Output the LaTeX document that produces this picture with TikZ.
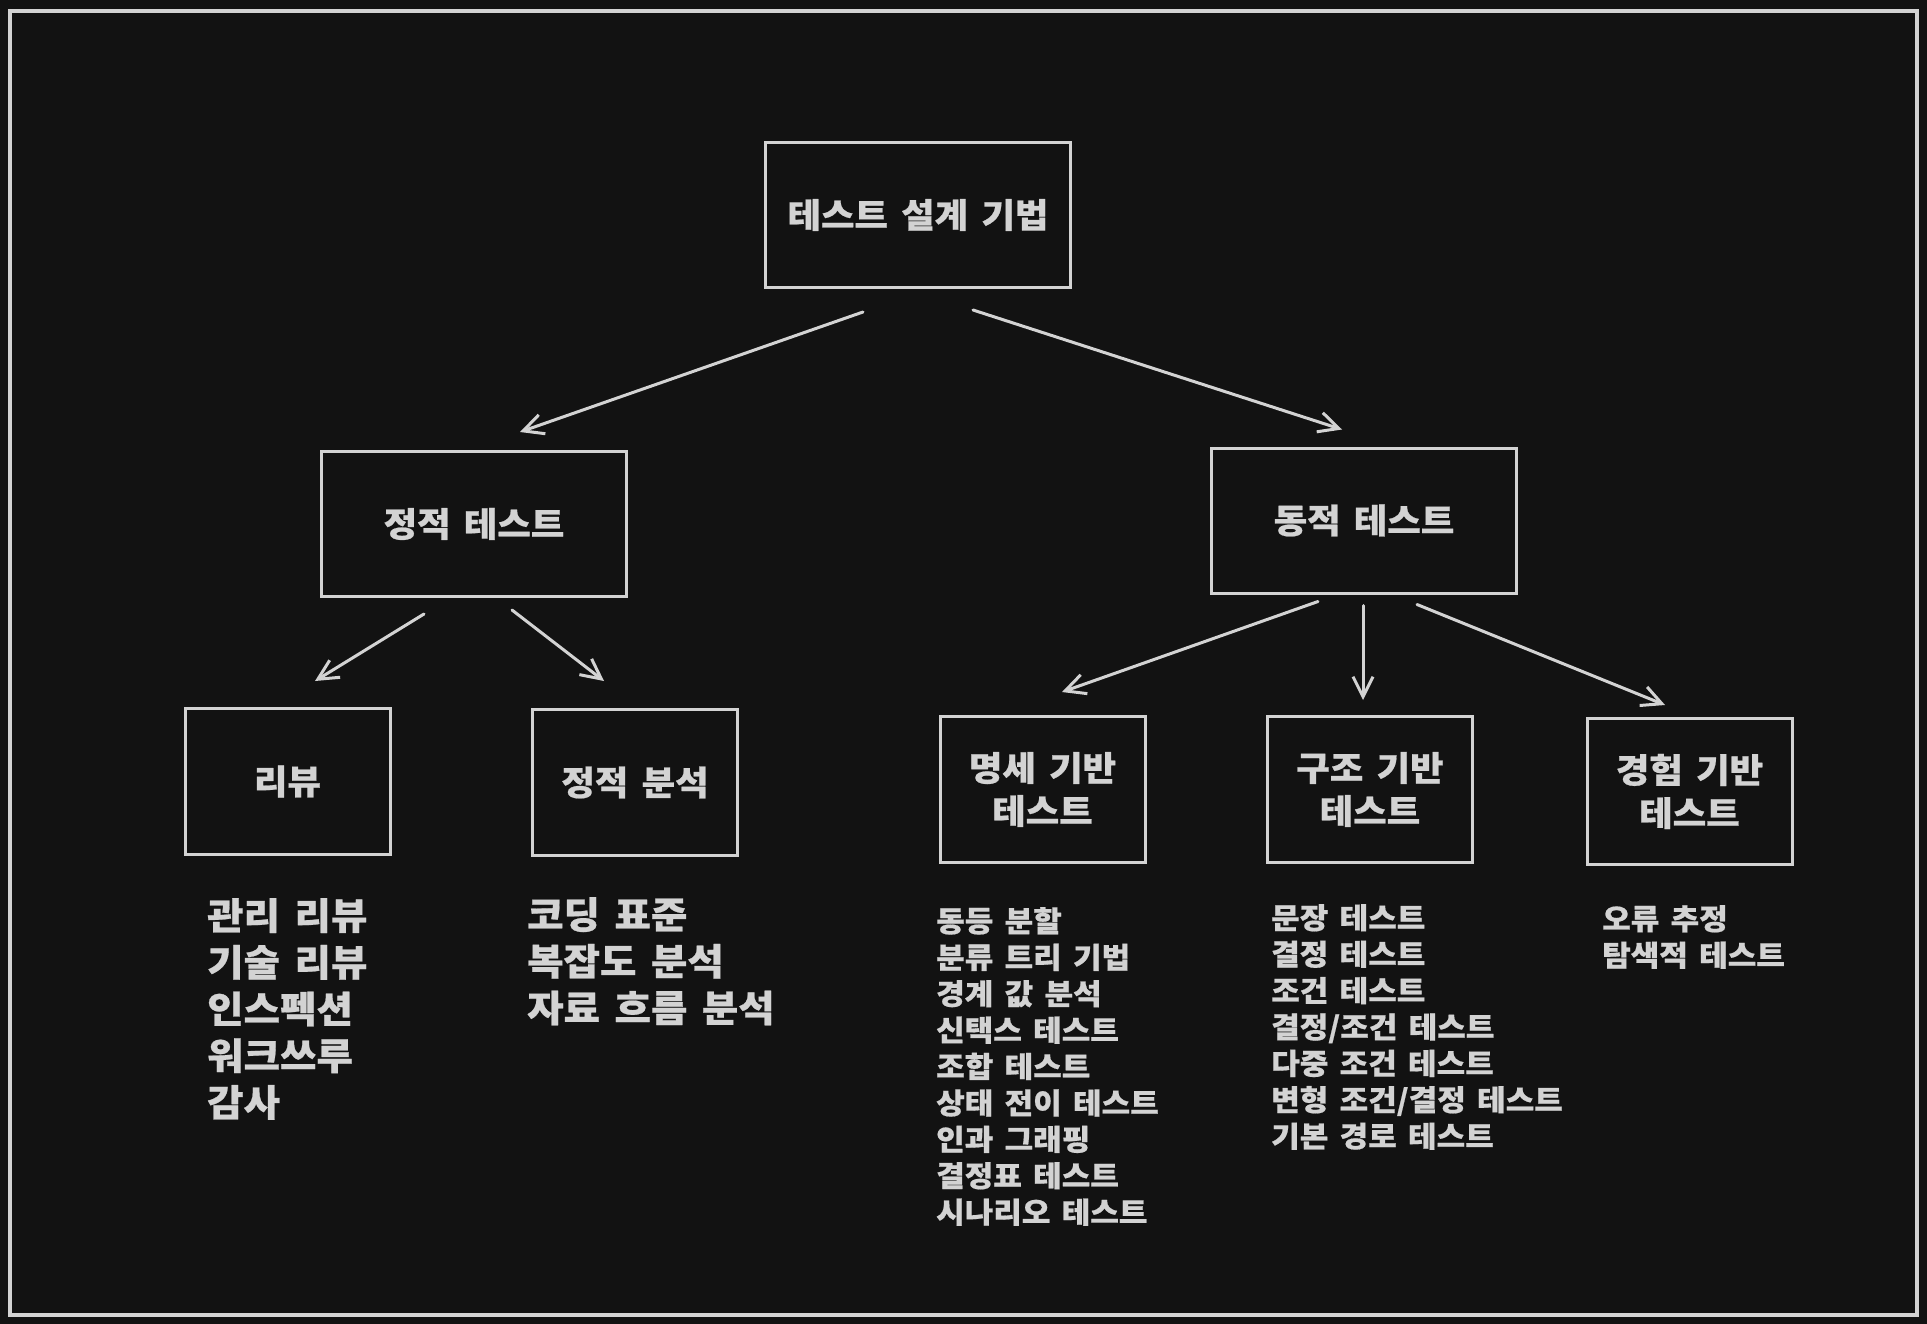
\documentclass[tikz,border=0pt]{standalone}
\usepackage{fontspec}
\newfontfamily\kr{Noto Sans CJK KR}[FakeStretch=1.07,WordSpace=1.6,FakeBold=0.6]
\usetikzlibrary{arrows.meta,calc}
\definecolor{bg}{HTML}{121212}
\definecolor{ink}{HTML}{D3D3D3}
\begin{document}
\begin{tikzpicture}[x=1pt,y=-1pt,
  box/.style={draw=ink, line width=3pt, rectangle, inner sep=0pt, text=ink,
    align=center, font=\kr\bfseries\fontsize{34pt}{43pt}\selectfont},
  wide/.style={box, minimum width=305pt, minimum height=145pt},
  small/.style={box, minimum width=205pt, minimum height=146pt},
  biglist/.style={anchor=north west, inner sep=0pt, text=ink, align=left,
    font=\kr\bfseries\fontsize{37pt}{46.7pt}\selectfont},
  smalllist/.style={anchor=north west, inner sep=0pt, text=ink, align=left,
    font=\kr\bfseries\fontsize{29pt}{36.4pt}\selectfont},
  arr/.style={draw=ink, line width=3pt, line cap=round,
    -{Straight Barb[length=20pt,width=20pt]}}]
\useasboundingbox (0,0) rectangle (1927,1324);
\fill[bg] (0,0) rectangle (1927,1324);
\draw[ink, line width=3.5pt] (10,11) rectangle (1917,1315);

% boxes
\node[wide] (root) at (918,215) {테스트 설계 기법};
\node[wide] (st) at (474,524) {정적 테스트};
\node[wide] (dy) at (1364,520.5) {동적 테스트};
\node[small] (rv) at (287.5,781.5) {리뷰};
\node[small] (sa) at (635,782.5) {정적 분석};
\node[small] (sp) at (1042.5,789.5) {명세 기반\\테스트};
\node[small] (sc) at (1370,789.5) {구조 기반\\테스트};
\node[small] (ex) at (1689.5,791.5) {경험 기반\\테스트};

% connectors
\draw[arr] ($(root.south)+(-55,23)$) -- ($(st.north)+(46,-18)$);
\draw[arr] ($(root.south)+(55,21)$) -- ($(dy.north)+(-22,-17)$);
\draw[arr] ($(st.south)+(-50,16)$) -- ($(rv.north)+(27.5,-26)$);
\draw[arr] ($(st.south)+(38,12)$) -- ($(sa.north)+(-31,-27)$);
\draw[arr] ($(dy.south)+(-46,7)$) -- ($(sp.north)+(19.5,-23)$);
\draw[arr] ($(dy.south)+(-1,11)$) -- ($(sc.north)+(-7,-15)$);
\draw[arr] ($(dy.south)+(53,10)$) -- ($(ex.north)+(-24.5,-12)$);

% lists
\node[biglist] (l1) at (207,898) {관리 리뷰\\기술 리뷰\\인스펙션\\워크쓰루\\감사};
\node[biglist] (l2) at (527,897) {코딩 표준\\복잡도 분석\\자료 흐름 분석};
\node[smalllist] (l3) at (936,907) {동등 분할\\분류 트리 기법\\경계 값 분석\\신택스 테스트\\조합 테스트\\상태 전이 테스트\\인과 그래핑\\결정표 테스트\\시나리오 테스트};
\node[smalllist] (l4) at (1271,904) {문장 테스트\\결정 테스트\\조건 테스트\\결정/조건 테스트\\다중 조건 테스트\\변형 조건/결정 테스트\\기본 경로 테스트};
\node[smalllist] (l5) at (1602,905) {오류 추정\\탐색적 테스트};
\end{tikzpicture}
\end{document}
